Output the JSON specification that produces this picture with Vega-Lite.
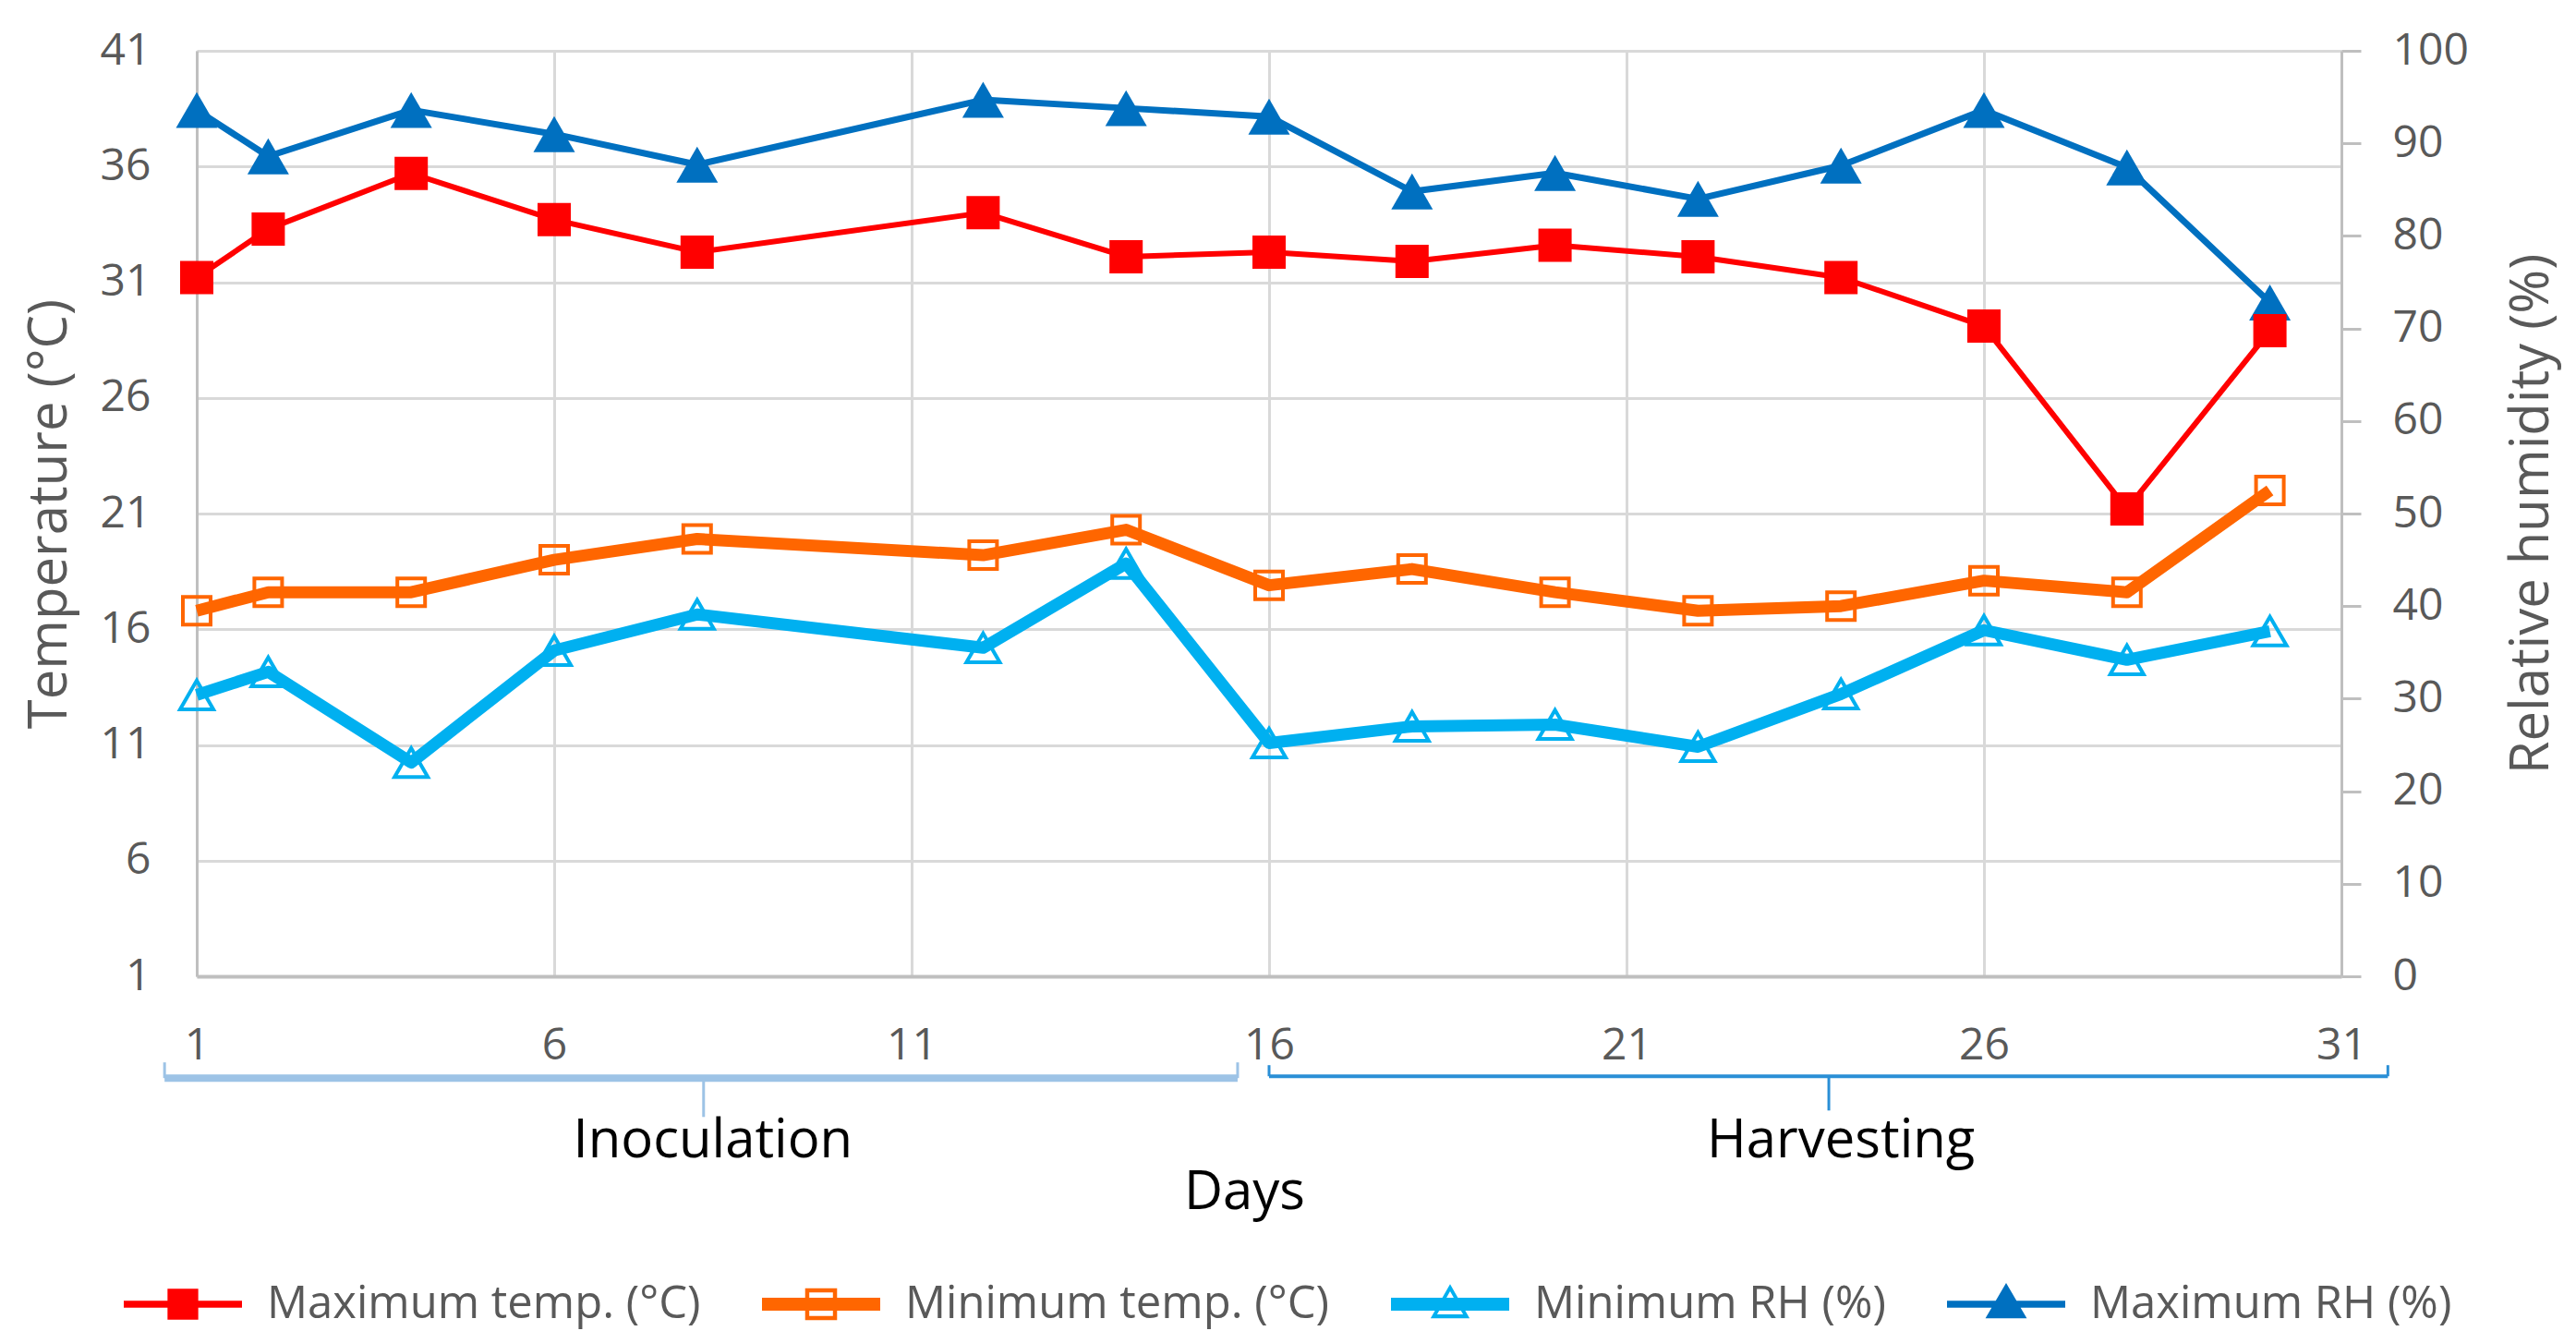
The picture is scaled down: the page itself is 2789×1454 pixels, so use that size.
{
  "$schema": "https://vega.github.io/schema/vega-lite/v6.json",
  "width": 2322,
  "height": 1002,
  "autosize": {"type": "none"},
  "padding": {"left": 213, "top": 55, "right": 254, "bottom": 397},
  "background": "white",
  "config": {"font": "Open Sans", "view": {"stroke": null}},
  "datasets": {
    "series": [
      {"day": 1, "series": "Maximum temp. (°C)", "group": "temp", "value": 31.2},
      {"day": 2, "series": "Maximum temp. (°C)", "group": "temp", "value": 33.3},
      {"day": 4, "series": "Maximum temp. (°C)", "group": "temp", "value": 35.7},
      {"day": 6, "series": "Maximum temp. (°C)", "group": "temp", "value": 33.7},
      {"day": 8, "series": "Maximum temp. (°C)", "group": "temp", "value": 32.3},
      {"day": 12, "series": "Maximum temp. (°C)", "group": "temp", "value": 34.0},
      {"day": 14, "series": "Maximum temp. (°C)", "group": "temp", "value": 32.1},
      {"day": 16, "series": "Maximum temp. (°C)", "group": "temp", "value": 32.3},
      {"day": 18, "series": "Maximum temp. (°C)", "group": "temp", "value": 31.9},
      {"day": 20, "series": "Maximum temp. (°C)", "group": "temp", "value": 32.6},
      {"day": 22, "series": "Maximum temp. (°C)", "group": "temp", "value": 32.1},
      {"day": 24, "series": "Maximum temp. (°C)", "group": "temp", "value": 31.2},
      {"day": 26, "series": "Maximum temp. (°C)", "group": "temp", "value": 29.1},
      {"day": 28, "series": "Maximum temp. (°C)", "group": "temp", "value": 21.2},
      {"day": 30, "series": "Maximum temp. (°C)", "group": "temp", "value": 28.9},
      {"day": 1, "series": "Minimum temp. (°C)", "group": "temp", "value": 16.8},
      {"day": 2, "series": "Minimum temp. (°C)", "group": "temp", "value": 17.6},
      {"day": 4, "series": "Minimum temp. (°C)", "group": "temp", "value": 17.6},
      {"day": 6, "series": "Minimum temp. (°C)", "group": "temp", "value": 19.0},
      {"day": 8, "series": "Minimum temp. (°C)", "group": "temp", "value": 19.9},
      {"day": 12, "series": "Minimum temp. (°C)", "group": "temp", "value": 19.2},
      {"day": 14, "series": "Minimum temp. (°C)", "group": "temp", "value": 20.3},
      {"day": 16, "series": "Minimum temp. (°C)", "group": "temp", "value": 17.9},
      {"day": 18, "series": "Minimum temp. (°C)", "group": "temp", "value": 18.6},
      {"day": 20, "series": "Minimum temp. (°C)", "group": "temp", "value": 17.6},
      {"day": 22, "series": "Minimum temp. (°C)", "group": "temp", "value": 16.8},
      {"day": 24, "series": "Minimum temp. (°C)", "group": "temp", "value": 17.0},
      {"day": 26, "series": "Minimum temp. (°C)", "group": "temp", "value": 18.1},
      {"day": 28, "series": "Minimum temp. (°C)", "group": "temp", "value": 17.6},
      {"day": 30, "series": "Minimum temp. (°C)", "group": "temp", "value": 22.0},
      {"day": 1, "series": "Minimum RH (%)", "group": "rh", "value": 30.4},
      {"day": 2, "series": "Minimum RH (%)", "group": "rh", "value": 32.9},
      {"day": 4, "series": "Minimum RH (%)", "group": "rh", "value": 23.1},
      {"day": 6, "series": "Minimum RH (%)", "group": "rh", "value": 35.2},
      {"day": 8, "series": "Minimum RH (%)", "group": "rh", "value": 39.1},
      {"day": 12, "series": "Minimum RH (%)", "group": "rh", "value": 35.5},
      {"day": 14, "series": "Minimum RH (%)", "group": "rh", "value": 44.6},
      {"day": 16, "series": "Minimum RH (%)", "group": "rh", "value": 25.2},
      {"day": 18, "series": "Minimum RH (%)", "group": "rh", "value": 27.0},
      {"day": 20, "series": "Minimum RH (%)", "group": "rh", "value": 27.2},
      {"day": 22, "series": "Minimum RH (%)", "group": "rh", "value": 24.8},
      {"day": 24, "series": "Minimum RH (%)", "group": "rh", "value": 30.5},
      {"day": 26, "series": "Minimum RH (%)", "group": "rh", "value": 37.4},
      {"day": 28, "series": "Minimum RH (%)", "group": "rh", "value": 34.2},
      {"day": 30, "series": "Minimum RH (%)", "group": "rh", "value": 37.3},
      {"day": 1, "series": "Maximum RH (%)", "group": "rh", "value": 93.6},
      {"day": 2, "series": "Maximum RH (%)", "group": "rh", "value": 88.6},
      {"day": 4, "series": "Maximum RH (%)", "group": "rh", "value": 93.6},
      {"day": 6, "series": "Maximum RH (%)", "group": "rh", "value": 91.0},
      {"day": 8, "series": "Maximum RH (%)", "group": "rh", "value": 87.7},
      {"day": 12, "series": "Maximum RH (%)", "group": "rh", "value": 94.7},
      {"day": 14, "series": "Maximum RH (%)", "group": "rh", "value": 93.8},
      {"day": 16, "series": "Maximum RH (%)", "group": "rh", "value": 92.9},
      {"day": 18, "series": "Maximum RH (%)", "group": "rh", "value": 84.8},
      {"day": 20, "series": "Maximum RH (%)", "group": "rh", "value": 86.8},
      {"day": 22, "series": "Maximum RH (%)", "group": "rh", "value": 84.0},
      {"day": 24, "series": "Maximum RH (%)", "group": "rh", "value": 87.6},
      {"day": 26, "series": "Maximum RH (%)", "group": "rh", "value": 93.6},
      {"day": 28, "series": "Maximum RH (%)", "group": "rh", "value": 87.4},
      {"day": 30, "series": "Maximum RH (%)", "group": "rh", "value": 72.8}
    ],
    "brackets": [
      {"phase": "Inoculation", "part": "bar", "day": 0.55, "day2": 15.56, "pos": -11.0, "pos2": -11.0},
      {"phase": "Inoculation", "part": "tick", "day": 0.55, "day2": 0.55, "pos": -11.0, "pos2": -9.3},
      {"phase": "Inoculation", "part": "tick", "day": 15.56, "day2": 15.56, "pos": -11.0, "pos2": -9.3},
      {"phase": "Inoculation", "part": "tick", "day": 8.09, "day2": 8.09, "pos": -11.0, "pos2": -15.2},
      {"phase": "Harvesting", "part": "bar", "day": 16.0, "day2": 31.65, "pos": -10.8, "pos2": -10.8},
      {"phase": "Harvesting", "part": "tick", "day": 16.0, "day2": 16.0, "pos": -10.8, "pos2": -9.6},
      {"phase": "Harvesting", "part": "tick", "day": 31.65, "day2": 31.65, "pos": -10.8, "pos2": -9.6},
      {"phase": "Harvesting", "part": "tick", "day": 23.83, "day2": 23.83, "pos": -10.8, "pos2": -14.5}
    ],
    "phases": [
      {"phase": "Inoculation", "day": 8.22, "pos": -17.9},
      {"phase": "Harvesting", "day": 24.0, "pos": -17.9}
    ]
  },
  "encoding": {
    "x": {
      "field": "day",
      "type": "quantitative",
      "scale": {"domain": [1, 31], "nice": false, "zero": false},
      "axis": {
        "values": [1, 6, 11, 16, 21, 26, 31],
        "grid": true,
        "gridColor": "#D9D9D9",
        "gridWidth": 3,
        "domainColor": "#BFBFBF",
        "domainWidth": 4,
        "ticks": false,
        "labelPadding": 51,
        "labelFontSize": 48,
        "labelColor": "#595959",
        "labelFlush": false,
        "title": "Days",
        "titleColor": "#000000",
        "titleFontSize": 58,
        "titleFontWeight": "normal",
        "titleX": 1134,
        "titlePadding": 106
      }
    }
  },
  "layer": [
    {
      "data": {"name": "series"},
      "transform": [{"filter": "datum.group === 'rh'"}],
      "encoding": {
        "y": {
          "field": "value",
          "type": "quantitative",
          "scale": {"domain": [0, 100], "nice": false, "zero": false},
          "axis": {
            "orient": "right",
            "values": [0, 10, 20, 30, 40, 50, 60, 70, 80, 90, 100],
            "grid": false,
            "domainColor": "#BFBFBF",
            "domainWidth": 3,
            "tickColor": "#BFBFBF",
            "tickWidth": 3,
            "tickSize": 21,
            "labelPadding": 34,
            "labelFontSize": 48,
            "labelColor": "#595959",
            "labelFlush": false,
            "title": "Relative humidity (%)",
            "titleColor": "#595959",
            "titleFontSize": 58,
            "titleFontWeight": "normal",
            "titleAngle": 270,
            "titlePadding": 98
          }
        }
      },
      "layer": [
        {
          "transform": [{"filter": "datum.series === 'Minimum RH (%)'"}],
          "mark": {"type": "line", "color": "#00B0F0", "strokeWidth": 13, "strokeJoin": "round"}
        },
        {
          "transform": [{"filter": "datum.series === 'Maximum RH (%)'"}],
          "mark": {"type": "line", "color": "#0070C0", "strokeWidth": 7, "strokeJoin": "round"}
        },
        {
          "transform": [{"filter": "datum.series === 'Minimum RH (%)'"}],
          "mark": {"type": "point", "color": "#00B0F0", "shape": "triangle-up", "filled": false, "size": 1300, "strokeWidth": 4, "opacity": 1}
        },
        {
          "transform": [{"filter": "datum.series === 'Maximum RH (%)'"}],
          "mark": {"type": "point", "color": "#0070C0", "shape": "triangle-up", "filled": true, "size": 2025, "opacity": 1}
        }
      ]
    },
    {
      "data": {"name": "series"},
      "transform": [{"filter": "datum.group === 'temp'"}],
      "encoding": {
        "y": {
          "field": "value",
          "type": "quantitative",
          "scale": {"domain": [1, 41], "nice": false, "zero": false},
          "axis": {
            "orient": "left",
            "values": [1, 6, 11, 16, 21, 26, 31, 36, 41],
            "grid": true,
            "gridColor": "#D9D9D9",
            "gridWidth": 3,
            "domainColor": "#BFBFBF",
            "domainWidth": 3,
            "ticks": false,
            "labelPadding": 50,
            "labelFontSize": 48,
            "labelColor": "#595959",
            "labelFlush": false,
            "title": "Temperature (°C)",
            "titleColor": "#595959",
            "titleFontSize": 58,
            "titleFontWeight": "normal",
            "titlePadding": 25
          }
        }
      },
      "layer": [
        {
          "transform": [{"filter": "datum.series === 'Minimum temp. (°C)'"}],
          "mark": {"type": "line", "color": "#FF6600", "strokeWidth": 13, "strokeJoin": "round"}
        },
        {
          "transform": [{"filter": "datum.series === 'Maximum temp. (°C)'"}],
          "mark": {"type": "line", "color": "#FF0000", "strokeWidth": 6, "strokeJoin": "round"}
        },
        {
          "transform": [{"filter": "datum.series === 'Minimum temp. (°C)'"}],
          "mark": {"type": "point", "color": "#FF6600", "shape": "square", "filled": false, "size": 900, "strokeWidth": 4, "opacity": 1}
        },
        {
          "transform": [{"filter": "datum.series === 'Maximum temp. (°C)'"}],
          "mark": {"type": "point", "color": "#FF0000", "shape": "square", "filled": true, "size": 1296, "opacity": 1}
        },
        {
          "transform": [{"filter": "false"}],
          "mark": {"type": "point", "filled": true, "size": 16384, "strokeWidth": 0, "opacity": 1},
          "encoding": {
            "shape": {
              "field": "series",
              "type": "nominal",
              "scale": {
                "domain": ["Maximum temp. (°C)", "Minimum temp. (°C)", "Minimum RH (%)", "Maximum RH (%)"],
                "range": [
                  "M-1,-0.06H1V0.06H-1Z M-0.26,-0.26H0.26V0.26H-0.26Z",
                  "M-1,-0.11H1V0.11H-1Z M-0.27,-0.27H0.27V0.27H-0.27Z M-0.2,-0.2V0.2H0.2V-0.2Z",
                  "M-1,-0.11H1V0.11H-1Z M0,-0.34L0.33,0.24H-0.33Z M0,-0.22L-0.22,0.17H0.22Z",
                  "M-1,-0.06H1V0.06H-1Z M0,-0.36L0.35,0.24H-0.35Z"
                ]
              },
              "legend": {
                "title": null,
                "orient": "none",
                "legendX": -79,
                "legendY": 1293,
                "direction": "horizontal",
                "columns": 4,
                "columnPadding": 66,
                "symbolSize": 16384,
                "symbolStrokeWidth": 0,
                "symbolOpacity": 1,
                "labelFontSize": 49,
                "labelColor": "#595959",
                "labelOffset": 27,
                "labelLimit": 0,
                "padding": 0
              }
            },
            "fill": {
              "field": "series",
              "type": "nominal",
              "scale": {
                "domain": ["Maximum temp. (°C)", "Minimum temp. (°C)", "Minimum RH (%)", "Maximum RH (%)"],
                "range": ["#FF0000", "#FF6600", "#00B0F0", "#0070C0"]
              },
              "legend": {
                "title": null,
                "orient": "none",
                "legendX": -79,
                "legendY": 1293,
                "direction": "horizontal",
                "columns": 4,
                "columnPadding": 66,
                "symbolSize": 16384,
                "symbolStrokeWidth": 0,
                "symbolOpacity": 1,
                "labelFontSize": 49,
                "labelColor": "#595959",
                "labelOffset": 27,
                "labelLimit": 0,
                "padding": 0
              }
            }
          }
        }
      ]
    },
    {
      "encoding": {
        "y": {
          "field": "pos",
          "type": "quantitative",
          "scale": {"domain": [0, 100], "nice": false, "zero": false},
          "axis": null
        }
      },
      "layer": [
        {
          "data": {"name": "brackets"},
          "transform": [{"filter": "datum.part === 'bar' && datum.phase === 'Inoculation'"}],
          "mark": {"type": "rule", "strokeWidth": 8},
          "encoding": {
            "x2": {"field": "day2"},
            "stroke": {
              "field": "phase",
              "type": "nominal",
              "scale": {"domain": ["Inoculation", "Harvesting"], "range": ["#9DC3E6", "#2A8FD6"]},
              "legend": null
            }
          }
        },
        {
          "data": {"name": "brackets"},
          "transform": [{"filter": "datum.part === 'bar' && datum.phase === 'Harvesting'"}],
          "mark": {"type": "rule", "strokeWidth": 4},
          "encoding": {
            "x2": {"field": "day2"},
            "stroke": {
              "field": "phase",
              "type": "nominal",
              "scale": {"domain": ["Inoculation", "Harvesting"], "range": ["#9DC3E6", "#2A8FD6"]},
              "legend": null
            }
          }
        },
        {
          "data": {"name": "brackets"},
          "transform": [{"filter": "datum.part === 'tick'"}],
          "mark": {"type": "rule", "strokeWidth": 3},
          "encoding": {
            "y2": {"field": "pos2"},
            "stroke": {
              "field": "phase",
              "type": "nominal",
              "scale": {"domain": ["Inoculation", "Harvesting"], "range": ["#9DC3E6", "#2A8FD6"]},
              "legend": null
            }
          }
        },
        {
          "data": {"name": "phases"},
          "mark": {"type": "text", "fontSize": 58, "align": "center", "baseline": "middle", "color": "#000000"},
          "encoding": {
            "text": {"field": "phase", "type": "nominal"}
          }
        }
      ]
    }
  ],
  "resolve": {"scale": {"y": "independent"}}
}
